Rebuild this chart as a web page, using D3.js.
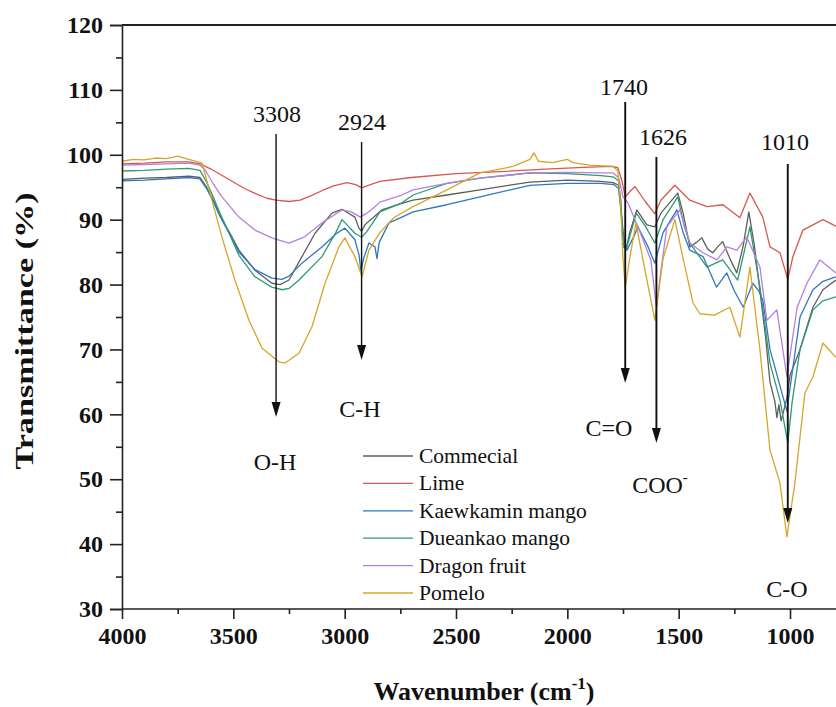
<!DOCTYPE html>
<html>
  <head>
    <meta charset="utf-8">
    <title>FTIR</title>
    <style media="screen">
    body{margin: 0; background: #fff}
    svg text {font-family: "Times New Roman", Times, "Liberation Serif", Tinos, serif; fill: #111}
    .tick text {font-weight: bold; font-size: 24px}
    </style>
  </head>
  <body>
    <script src="https://d3js.org/d3.v7.min.js"></script>
    <script type="text/javascript">
      var w = 836, h = 707

      // series as [wavenumber, transmittance]
      var names = ['Commecial', 'Lime', 'Kaewkamin mango', 'Dueankao mango', 'Dragon fruit', 'Pomelo']
      var colors = ['#5e5e5e', '#d9574f', '#2f76c3', '#2c9c70', '#b680df', '#d4a62a']

      var commecial = [[4000,96.2],[3900,96.4],[3800,96.5],[3700,96.7],[3650,96.5],[3620,95],[3590,93],[3564,91],[3540,89.3],[3520,88.2],[3475,85.3],[3403,82.2],[3327,80.2],[3290,80],[3250,80.7],[3192,84.3],[3133,87.9],[3057,91],[3012,91.6],[2954,90.4],[2936,88.7],[2924,88.2],[2909,89.2],[2833,91.5],[2743,92.5],[2693,93],[2541,93.8],[2392,94.6],[2168,95.8],[2000,96.1],[1850,95.9],[1795,95.7],[1770,95.3],[1760,93],[1750,86.5],[1737,85.3],[1720,88],[1688,91.5],[1643,89.2],[1607,88.9],[1580,91],[1504,94.1],[1480,91],[1450,85.8],[1420,86.5],[1396,87.2],[1370,85.5],[1347,84.9],[1320,86],[1302,86.6],[1270,84],[1239,81.8],[1210,86],[1185,91.2],[1160,86],[1135,79],[1110,72],[1090,65],[1068,62],[1059,59.5],[1050,61.5],[1040,59],[1025,61],[1014,62.5],[1000,66],[955,70],[897,76.5],[852,79.2],[794,80.7]]

      var lime = [[4000,98.6],[3900,98.7],[3800,98.9],[3700,98.9],[3650,98.6],[3600,97.8],[3550,96.8],[3500,95.8],[3450,94.8],[3400,94],[3350,93.3],[3308,93],[3250,92.8],[3200,93],[3150,93.7],[3100,94.5],[3050,95.2],[2990,95.7],[2950,95.4],[2924,94.9],[2900,95.2],[2842,95.9],[2700,96.5],[2500,97.1],[2303,97.4],[2100,97.8],[1900,98.1],[1800,98.2],[1773,98],[1755,96],[1740,93.5],[1720,94.3],[1696,95.1],[1650,92.8],[1607,90.9],[1580,93],[1517,95.3],[1450,93],[1373,92],[1301,92.3],[1225,90.3],[1180,94.1],[1122,90.4],[1090,85.8],[1045,84.9],[1010,80.8],[987,84.3],[942,88.4],[852,90],[794,89]]

      var kaewkamin = [[4000,96],[3900,96.1],[3800,96.3],[3700,96.5],[3650,96.3],[3620,94.8],[3590,92.8],[3564,90.8],[3520,88],[3475,85],[3403,82.3],[3327,81],[3282,80.8],[3250,81.3],[3192,83.3],[3102,85.8],[3040,87.8],[2999,88.7],[2954,86.9],[2935,84.5],[2927,82],[2915,84],[2891,86.4],[2864,85.8],[2855,84],[2845,86.5],[2801,89.5],[2743,90.4],[2693,91.2],[2541,92.3],[2392,93.5],[2168,95.3],[2000,95.6],[1850,95.6],[1790,95.4],[1770,94.8],[1755,90],[1745,86.9],[1732,85.3],[1700,87.5],[1683,88.9],[1640,86],[1607,83.3],[1570,88],[1508,91.5],[1480,88],[1450,85.3],[1390,84.3],[1330,79.6],[1284,81.8],[1250,79],[1210,76.5],[1167,80.2],[1140,79],[1122,77.6],[1090,70],[1050,65],[1014,60.5],[1000,64],[955,75],[897,79.2],[852,80.5],[794,81.2]]

      var dueankao = [[4000,97.5],[3900,97.6],[3800,97.8],[3700,97.9],[3650,97.6],[3620,95.8],[3590,93.5],[3560,91],[3520,88],[3475,84.5],[3403,81.2],[3327,79.6],[3280,79.2],[3250,79.4],[3205,80.7],[3102,84.3],[3040,88],[3012,90],[2954,87.9],[2924,87.3],[2900,88.2],[2864,90],[2842,91.2],[2743,92.6],[2693,93.8],[2541,95.6],[2392,96.4],[2168,97.2],[2000,97.1],[1850,96.8],[1795,96.6],[1770,96],[1755,90],[1750,85.8],[1735,85.5],[1690,91],[1650,89],[1607,86.4],[1570,90],[1504,93.5],[1475,89],[1450,86.4],[1373,82.7],[1302,83.8],[1235,80.7],[1180,88.9],[1135,79.6],[1090,67.9],[1045,62.2],[1010,55.6],[990,62],[955,70],[897,76.1],[852,77.5],[794,78.1]]

      var dragon = [[4000,98.4],[3900,98.5],[3800,98.6],[3700,98.7],[3650,98.4],[3627,97.7],[3590,95.5],[3551,93.5],[3475,90.4],[3403,88.4],[3327,87.2],[3250,86.4],[3183,87.3],[3102,89.5],[3012,91.5],[2970,91.2],[2930,90.4],[2900,91],[2864,92],[2842,92.7],[2743,93.8],[2693,94.6],[2541,95.6],[2392,96.4],[2168,97.2],[2000,97.3],[1850,97.2],[1795,97.2],[1770,96.5],[1750,93.5],[1728,92.6],[1683,88.9],[1625,83.8],[1600,76.5],[1580,82],[1553,88.9],[1495,91.5],[1450,86.4],[1391,84.9],[1328,83.8],[1284,85.8],[1239,85.3],[1194,87.3],[1135,82.7],[1104,74.5],[1059,76.1],[1014,65.8],[968,76.5],[924,80.2],[866,83.8],[794,81.8]]

      var pomelo = [[4000,99],[3950,99.3],[3900,99.2],[3850,99.5],[3800,99.4],[3750,99.8],[3700,99.3],[3660,98.9],[3640,98.7],[3596,93],[3551,87.3],[3493,80.7],[3430,74.5],[3371,70.2],[3295,68.1],[3268,67.9],[3205,69.4],[3147,73.5],[3088,80.2],[3026,85.8],[2999,87.2],[2954,84.3],[2922,81.2],[2891,85.3],[2842,88],[2780,90.3],[2693,92],[2541,94.6],[2392,97.2],[2244,98.2],[2168,99.3],[2150,100.3],[2130,99],[2065,98.8],[2000,99.3],[1975,98.8],[1900,98.4],[1795,98.2],[1773,97.5],[1760,92],[1750,84],[1740,79.6],[1720,84],[1692,89.5],[1650,82],[1607,74.5],[1570,84],[1517,90],[1480,84],[1436,77.2],[1405,75.5],[1340,75.3],[1270,76.5],[1225,71.9],[1180,82.7],[1160,77],[1135,70],[1090,54.5],[1045,49.4],[1014,41.1],[978,49.4],[933,63.3],[897,65.8],[852,71],[794,68.8]]

      var series = [commecial, lime, kaewkamin, dueankao, dragon, pomelo]

      var xTicks = [4000, 3500, 3000, 2500, 2000, 1500, 1000]
      var xMinor = [3750, 3250, 2750, 2250, 1750, 1250, 750]
      var yTicks = [30, 40, 50, 60, 70, 80, 90, 100, 110, 120]
      var yMinor = [35, 45, 55, 65, 75, 85, 95, 105, 115]

      // peak labels and where the arrows sit
      var peakLabels = ['3308', '2924', '1740', '1626', '1010']
      var peakPos = [3308, 2924, 1740, 1600, 1010]
      var bondLabels = ['O-H', 'C-H', 'C=O', 'COO', 'C-O']

      var x = d3.scaleLinear().domain([4000, 400]).range([122, 923.6])
      var y = d3.scaleLinear().domain([30, 120]).range([609, 25])

      var svg = d3.select('body').append('svg')
        .attr('width', w)
        .attr('height', h)

      svg.append('clipPath').attr('id', 'clip')
        .append('rect').attr('x', 122).attr('y', 25).attr('width', w - 122).attr('height', 584)

      var line = d3.line()
        .x(function(d){ return x(d[0]) })
        .y(function(d){ return y(d[1]) })

      svg.append('g').attr('clip-path', 'url(#clip)')
        .selectAll('path')
        .data(series)
        .enter()
          .append('path')
          .attr('d', line)
          .attr('fill', 'none')
          .attr('stroke', function(d, i){ return colors[i] })
          .attr('stroke-width', 1.3)
          .attr('stroke-linejoin', 'round')

      // axes
      var xAxis = svg.append('g').attr('transform', 'translate(0,609)')
        .call(d3.axisBottom(x).tickValues(xTicks).tickSize(10).tickPadding(8).tickFormat(d3.format('d')))
      svg.append('g').attr('transform', 'translate(0,609)')
        .call(d3.axisBottom(x).tickValues(xMinor).tickSize(5).tickFormat(''))
        .select('.domain').remove()
      xAxis.select('.domain').attr('d', 'M122,0H' + w)

      var yAxis = svg.append('g').attr('transform', 'translate(122,0)')
        .call(d3.axisLeft(y).tickValues(yTicks).tickSize(12).tickPadding(7))
      svg.append('g').attr('transform', 'translate(122,0)')
        .call(d3.axisLeft(y).tickValues(yMinor).tickSize(6).tickFormat(''))
        .select('.domain').remove()

      svg.selectAll('g').attr('font-family', null)
      svg.selectAll('.domain, .tick line').attr('stroke', '#222').attr('stroke-width', 1.6)
      svg.selectAll('.tick text').attr('fill', '#111')

      // top frame line
      svg.append('line').attr('x1', 122).attr('x2', w).attr('y1', 25).attr('y2', 25)
        .attr('stroke', '#222').attr('stroke-width', 2)

      // axis titles
      var xt = svg.append('text').attr('x', 484).attr('y', 700)
        .attr('text-anchor', 'middle').attr('font-weight', 'bold').attr('font-size', 26)
      xt.append('tspan').text('Wavenumber (cm')
      xt.append('tspan').attr('font-size', 17).attr('dy', -11).text('-1')
      xt.append('tspan').attr('dy', 11).text(')')

      svg.append('text')
        .attr('transform', 'translate(33,331) rotate(-90)')
        .attr('text-anchor', 'middle').attr('font-weight', 'bold').attr('font-size', 26)
        .attr('textLength', 277).attr('lengthAdjust', 'spacingAndGlyphs')
        .text('Transmittance (%)')

      // peak arrows
      var arrows = [
        {top: 134, tip: 417, lx: 277, ly: 122, bx: 275, by: 470},
        {top: 142, tip: 360, lx: 362, ly: 130, bx: 360, by: 417},
        {top: 102, tip: 383, lx: 624, ly: 95, bx: 609, by: 436},
        {top: 157, tip: 443, lx: 663, ly: 145, bx: 660, by: 493},
        {top: 164, tip: 523, lx: 785, ly: 150, bx: 787, by: 597}
      ]

      arrows.forEach(function(a, i){
        var px = x(peakPos[i])
        svg.append('line').attr('x1', px).attr('x2', px).attr('y1', a.top).attr('y2', a.tip - 12)
          .attr('stroke', '#111').attr('stroke-width', i < 2 ? 1.4 : 1.9)
        svg.append('path')
          .attr('d', 'M' + (px - 4.5) + ',' + (a.tip - 15) + 'L' + (px + 4.5) + ',' + (a.tip - 15) + 'L' + px + ',' + a.tip + 'Z')
          .attr('fill', '#111')
        svg.append('text').attr('x', a.lx).attr('y', a.ly).attr('text-anchor', 'middle')
          .attr('font-size', 24).text(peakLabels[i])
        var t = svg.append('text').attr('x', a.bx).attr('y', a.by).attr('text-anchor', 'middle')
          .attr('font-size', 24).text(bondLabels[i])
        if(i == 3) t.append('tspan').attr('font-size', 15).attr('dy', -11).text('-')
      })

      // legend
      var legend = svg.append('g')
      names.forEach(function(n, i){
        var ly = 456 + i * 27.4
        legend.append('line').attr('x1', 363).attr('x2', 413).attr('y1', ly).attr('y2', ly)
          .attr('stroke', colors[i]).attr('stroke-width', 1.3)
        legend.append('text').attr('x', 419).attr('y', ly + 7).attr('font-size', 21.5).text(n)
      })
    </script>
  </body>
</html>
